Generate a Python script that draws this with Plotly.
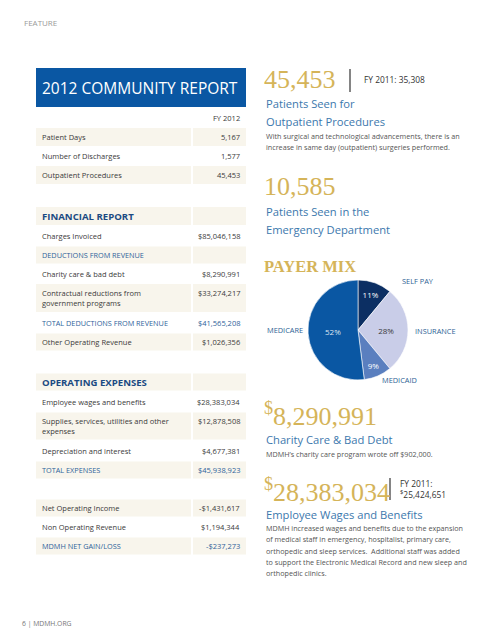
import plotly.graph_objects as go

# ---------------- DATA ----------------
table_title = "2012 COMMUNITY REPORT"
col_header = "FY 2012"

stat_labels = ["Patient Days", "Number of Discharges", "Outpatient Procedures"]
stat_values = ["5,167", "1,577", "45,453"]

fin_labels = ["FINANCIAL REPORT", "Charges Invoiced", "DEDUCTIONS FROM REVENUE",
              "Charity care & bad debt", "Contractual reductions from<br>government programs",
              "TOTAL DEDUCTIONS FROM REVENUE", "Other Operating Revenue"]
fin_values = ["", "$85,046,158", "", "$8,290,991", "$33,274,217", "$41,565,208", "$1,026,356"]

exp_labels = ["OPERATING EXPENSES", "Employee wages and benefits",
              "Supplies, services, utilities and other<br>expenses",
              "Depreciation and interest", "TOTAL EXPENSES"]
exp_values = ["", "$28,383,034", "$12,878,508", "$4,677,381", "$45,938,923"]

net_labels = ["Net Operating Income", "Non Operating Revenue", "MDMH NET GAIN/LOSS"]
net_values = ["-$1,431,617", "$1,194,344", "-$237,273"]

payer_labels = ["SELF PAY", "INSURANCE", "MEDICAID", "MEDICARE"]
payer_values = [11, 28, 9, 52]

outpatient_total = "45,453"
outpatient_prev = "FY 2011: 35,308"
er_total = "10,585"
charity_total = "8,290,991"
wages_total = "28,383,034"
wages_prev = ["FY 2011:", "<sup>$</sup>25,424,651"]

# ---------------- STYLE / LAYOUT ----------------
PAGE_W, PAGE_H = 493, 640
OFF = 8  # browser body margin
W, H = PAGE_W - OFF, PAGE_H - OFF
SANS = "Open Sans, Lato, sans-serif"
SERIF = "Liberation Serif, DejaVu Serif, serif"
BLUE = "#0a57a3"
CREAM = "#f8f5ec"
TXT = "#3a3a3a"
SUBBLUE = "#2e629a"
HEADBLUE = "#1b4a82"
GOLD = "#d5b459"
STEEL = "#3c78ad"
GRAY = "#555555"

fig = go.Figure()
shapes, ann = [], []

def rect(x0, y0, x1, y1, color):
    shapes.append(dict(type="rect", xref="x", yref="y", x0=x0, x1=x1, y0=y0, y1=y1,
                       fillcolor=color, line=dict(width=0), layer="below"))

def text(x, y, t, size, color, font=SANS, anchor="left", valign="middle", **kw):
    ann.append(dict(x=x, y=y, xref="x", yref="y", text=t, showarrow=False,
                    xanchor=anchor, yanchor=valign, align=anchor if anchor != "center" else "center",
                    font=dict(size=size, color=color, family=font), **kw))

LX0, LX1, RX0, RX1 = 36, 191, 193, 246
TX_L, TX_R = 40, 242
FS = 7.5

# page labels
text(22, 22, "FEATURE", 8, "#9a9a9a")
text(20, 623, "6 | MDMH.ORG", 6.8, "#777777")

# header box
rect(36, 68, 246, 107, BLUE)
text(40, 88, table_title, 15.5, "white")
text(TX_R, 118, col_header, FS, TXT, anchor="right")

def row(yc, h, label, value, band, kind="normal"):
    if band:
        rect(LX0, yc - h / 2, LX1, yc + h / 2, CREAM)
        rect(RX0, yc - h / 2, RX1, yc + h / 2, CREAM)
    if kind == "header":
        text(TX_L, yc, "<b>" + label + "</b>", 9.6, HEADBLUE)
    elif kind == "sub":
        text(TX_L, yc, label, 7.3, SUBBLUE)
        if value:
            text(TX_R, yc, value, FS, SUBBLUE, anchor="right")
    elif kind == "two":
        text(TX_L, yc, label, FS, TXT)
        text(TX_R, yc - 5, value, FS, TXT, anchor="right")
    else:
        text(TX_L, yc, label, FS, TXT)
        text(TX_R, yc, value, FS, TXT, anchor="right")

stat_y = [137, 156, 175]
for i, (l, v) in enumerate(zip(stat_labels, stat_values)):
    row(stat_y[i], 18, l, v, i % 2 == 0)

fin_y = [216, 236, 255, 274, 298, 323, 342]
fin_h = [18, 18, 17, 18, 28, 18, 17]
fin_kind = ["header", "normal", "sub", "normal", "two", "sub", "normal"]
for i, (l, v) in enumerate(zip(fin_labels, fin_values)):
    row(fin_y[i], fin_h[i], l, v, i % 2 == 0, fin_kind[i])

exp_y = [382, 402, 426, 451, 470]
exp_h = [17, 18, 27, 18, 17]
exp_kind = ["header", "normal", "two", "normal", "sub"]
for i, (l, v) in enumerate(zip(exp_labels, exp_values)):
    row(exp_y[i], exp_h[i], l, v, i % 2 == 0, exp_kind[i])

net_y = [508, 527, 546]
net_kind = ["normal", "normal", "sub"]
for i, (l, v) in enumerate(zip(net_labels, net_values)):
    row(net_y[i], 17, l, v, i % 2 == 0, net_kind[i])

# ---------------- RIGHT COLUMN ----------------
RX = 264
SUB = 11.2
text(RX - 2, 79, outpatient_total, 26, GOLD, font=SERIF)
shapes.append(dict(type="line", xref="x", yref="y", x0=350, x1=350, y0=69, y1=92,
                   line=dict(color="#333333", width=1.2)))
text(362, 79, outpatient_prev, 8.4, "#333333")
text(RX, 103, "Patients Seen for", SUB, STEEL)
text(RX, 121, "Outpatient Procedures", SUB, STEEL)
text(RX, 136, "With surgical and technological advancements, there is an", 7.2, GRAY)
text(RX, 147, "increase in same day (outpatient) surgeries performed.", 7.2, GRAY)

text(RX - 2, 186, er_total, 26, GOLD, font=SERIF)
text(RX, 211, "Patients Seen in the", SUB, STEEL)
text(RX, 229, "Emergency Department", SUB, STEEL)

text(RX - 2, 266, "<b>PAYER MIX</b>", 16.5, GOLD, font=SERIF)

# pie
cx, cy, r = 358, 330, 50
fig.add_trace(go.Pie(
    labels=payer_labels, values=payer_values, sort=False, direction="clockwise",
    rotation=0, hole=0,
    marker=dict(colors=["#0c2f63", "#c9cde8", "#5a7fbf", "#0a57a3"],
                line=dict(color="white", width=0.6)),
    texttemplate="%{value}%", textposition="inside",
    insidetextfont=dict(size=8, family=SANS, color=["white", "#3a3a3a", "white", "#dfe6f2"]),
    showlegend=False, hoverinfo="label+percent",
    domain=dict(x=[(cx - r - OFF) / W, (cx + r - OFF) / W],
                y=[1 - (cy + r - OFF) / H, 1 - (cy - r - OFF) / H]),
))
LBL = "#2e5f95"
text(400, 281, "SELF PAY", 7.4, LBL)
text(413, 331, "INSURANCE", 7.4, LBL)
text(305, 330, "MEDICARE", 7.4, LBL, anchor="right")
text(399, 380, "MEDICAID", 7.4, LBL, anchor="center")

text(RX - 2, 414, "<sup>$</sup>" + charity_total, 26, GOLD, font=SERIF)
text(RX, 439, "Charity Care & Bad Debt", SUB, STEEL)
text(RX, 454, "MDMH\u2019s charity care program wrote off $902,000.", 7.2, GRAY)

text(RX - 2, 490, "<sup>$</sup>" + wages_total, 26, GOLD, font=SERIF)
shapes.append(dict(type="line", xref="x", yref="y", x0=390, x1=390, y0=478, y1=500,
                   line=dict(color="#333333", width=1.2)))
text(398, 483, wages_prev[0], 8.4, "#333333")
text(398, 494, wages_prev[1], 8.4, "#333333")
text(RX, 514, "Employee Wages and Benefits", SUB, STEEL)
para = ["MDMH increased wages and benefits due to the expansion",
        "of medical staff in emergency, hospitalist, primary care,",
        "orthopedic and sleep services.  Additional staff was added",
        "to support the Electronic Medical Record and new sleep and",
        "orthopedic clinics."]
for i, line in enumerate(para):
    text(RX, 528 + i * 11.3, line, 7.2, GRAY)

fig.update_layout(
    width=W, height=H, margin=dict(l=0, r=0, t=0, b=0),
    paper_bgcolor="white", plot_bgcolor="white",
    xaxis=dict(range=[OFF, PAGE_W], visible=False, fixedrange=True),
    yaxis=dict(range=[PAGE_H, OFF], visible=False, fixedrange=True),
    shapes=shapes, annotations=ann,
)
fig.write_html("out.html")
